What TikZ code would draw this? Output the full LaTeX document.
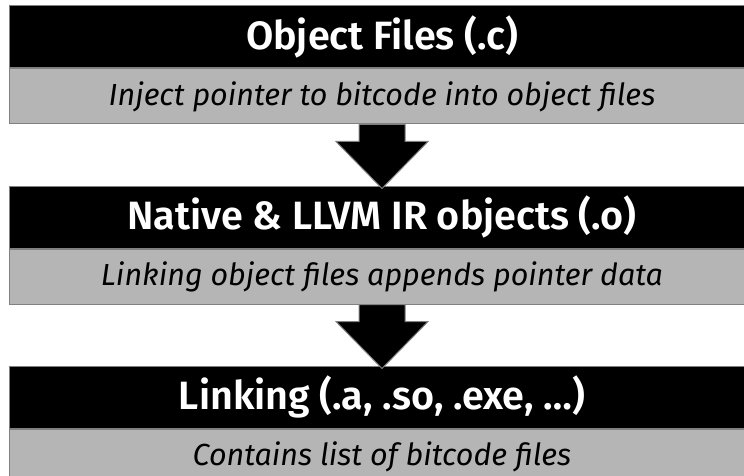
\documentclass[tikz,border=0pt]{standalone}
\usepackage{fontspec}
\setmainfont{Fira Sans}[BoldFont={Fira Sans SemiBold}]
\usetikzlibrary{positioning,calc}
\definecolor{descgray}{RGB}{181,181,181}
\definecolor{edgegray}{RGB}{128,128,128}
\tikzset{
  hdr/.style={draw=edgegray, line width=1pt, fill=black, text=white,
    minimum width=746pt, minimum height=62pt, inner sep=0pt,
    font=\fontsize{39.5}{46}\selectfont\bfseries},
  dsc/.style={draw=edgegray, line width=1pt, fill=descgray,
    minimum width=746pt, minimum height=55pt, inner sep=0pt,
    font=\fontsize{30.5}{36}\selectfont\itshape},
  downarrow/.style={draw=edgegray, line width=1pt, fill=black,
    to path={let \p1=(\tikztostart), \p2=(\tikztotarget) in
      (\x1-23pt,\y1) -- (\x1-23pt,\y1-17pt) -- (\x1-46pt,\y1-17pt)
      -- (\x1,\y2-3pt) -- (\x1+46pt,\y1-17pt) -- (\x1+23pt,\y1-17pt)
      -- (\x1+23pt,\y1) -- cycle}}
}
\begin{document}
\begin{tikzpicture}[x=1pt,y=1pt,node distance=61pt]
   \useasboundingbox (0,0) rectangle (744,-476);
   \node[hdr] (hdr_1) at (382,-37) {Object Files (.c)};
   \node[dsc] (dsc_1) [below=0pt of hdr_1] {Inject pointer to bitcode into object files};
   \node[hdr] (hdr_2) [below=of dsc_1] {Native \& LLVM IR objects (.o)};
   \node[dsc] (dsc_2) [below=0pt of hdr_2] {Linking object files appends pointer data};
   \node[hdr] (hdr_3) [below=of dsc_2] {Linking (.a, .so, .exe, …)};
   \node[dsc] (dsc_3) [below=0pt of hdr_3] {Contains list of bitcode files};
   \path[downarrow]
    (dsc_1.south) to (hdr_2.north)
    (dsc_2.south) to (hdr_3.north);
\end{tikzpicture}
\end{document}
